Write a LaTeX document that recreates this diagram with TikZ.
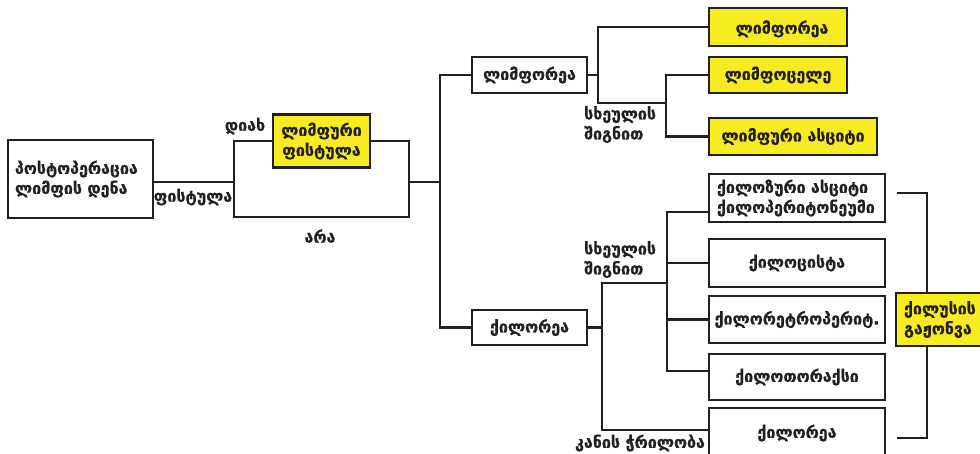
\documentclass[tikz,border=0pt]{standalone}
\usepackage{fontspec}
\setmainfont{DejaVu Sans}
\newfontfamily\geofont[Script=Georgian,FakeBold=0.6]{DejaVu Sans}
\definecolor{leakyellow}{RGB}{247,236,31}
\definecolor{inkgray}{RGB}{35,31,32}
\begin{document}
\begin{tikzpicture}[
    x=1pt, y=-1pt,
    every node/.style={font=\geofont\bfseries\fontsize{16}{20}\selectfont, text=inkgray},
    box/.style={draw=inkgray, line width=2.8pt, fill=white, inner sep=0pt, align=center},
    hibox/.style={box, fill=leakyellow},
    link/.style={draw=inkgray, line width=2.8pt},
    tag/.style={inner sep=0pt, align=left}
]
    % Page frame
    \useasboundingbox (0,0) rectangle (980,453);
    \clip (0,0) rectangle (980,453);

    % Source and fistula loop
    \node[box, minimum width=145pt, minimum height=78pt, align=left, text width=131pt] (flow) at (80.5,179) {პოსტოპერაცია\\ლიმფის დენა};
    \node[hibox, minimum width=97pt, minimum height=53pt] (fist) at (321.5,141) {ლიმფური\\ფისტულა};
    \coordinate (loopL) at (234,182);
    \coordinate (loopR) at (409,182);
    \coordinate (noway) at (320,217);
    \coordinate (split) at (440,182);

    % Two kinds of leak
    \node[box, minimum width=115pt, minimum height=36pt] (lymph) at (529.5,75) {ლიმფორეა};
    \node[box, minimum width=115pt, minimum height=35pt] (chyle) at (529.5,327.5) {ქილორეა};

    % Lymph side
    \node[hibox, minimum width=138pt, minimum height=38pt, text depth=0pt] (lyA) at (778,27) {\hspace{8pt}ლიმფორეა};
    \node[hibox, minimum width=138pt, minimum height=36pt] (lyB) at (778,75) {ლიმფოცელე};
    \node[hibox, minimum width=168pt, minimum height=37pt] (lyC) at (793,136.5) {ლიმფური ასციტი};
    \coordinate (ly1) at (598,75);
    \coordinate (ly2) at (666,103);

    % Chyle side
    \node[box, minimum width=176pt, minimum height=48pt, align=left, text width=160pt] (chA) at (797,198) {ქილოზური ასციტი\\ქილოპერიტონეუმი};
    \node[box, minimum width=176pt, minimum height=48pt] (chB) at (797,263) {ქილოცისტა};
    \node[box, minimum width=176pt, minimum height=47pt] (chC) at (797,319.5) {ქილორეტროპერიტ.};
    \node[box, minimum width=176pt, minimum height=46pt] (chD) at (797,377) {ქილოთორაქსი};
    \node[box, minimum width=176pt, minimum height=50pt] (chE) at (797,433) {ქილორეა};
    \coordinate (ch1) at (602,327.5);
    \coordinate (ch2) at (667,283);

    % Chyle leak bracket
    \node[hibox, minimum width=94pt, minimum height=53pt, align=left, text width=78pt] (leak) at (943,319.5) {ქილუსის\\გაჟონვა};
    \coordinate (brT) at (897,193);
    \coordinate (brB) at (897,438);

    % Connectors
    \draw[link] (flow.east |- loopL) -- (loopL);
    \draw[link] (loopL) |- (fist.west);
    \draw[link] (fist.east) -| (loopR);
    \draw[link] (loopL) |- (noway) -| (loopR);
    \draw[link] (loopR) -- (split);
    \draw[link] (split) |- (lymph.west);
    \draw[link] (split) |- (chyle.west);
    \draw[link] (lymph.east) -- (ly1);
    \draw[link] (ly1) |- (lyA.west);
    \draw[link] (ly1) |- (ly2);
    \draw[link] (ly2) |- (lyB.west);
    \draw[link] (ly2) |- (lyC.west);
    \draw[link] (chyle.east) -- (ch1);
    \draw[link] (ch1) |- (ch2);
    \draw[link] (ch1) |- ([yshift=3pt]chE.west);
    \draw[link] (ch2) |- ([yshift=-14pt]chA.west);
    \draw[link] (ch2) |- (chB.west);
    \draw[link] (ch2) |- (chC.west);
    \draw[link] (ch2) |- ([yshift=6pt]chD.west);
    \draw[link] (brT) -| ([xshift=-16pt]leak.north);
    \draw[link] (brB) -| ([xshift=-16pt]leak.south);

    % Branch labels
    \node[tag] (yes) at (245,126) {დიახ};
    \node[tag] (fistlabel) at (193,197) {ფისტულა};
    \node[tag] (no) at (320,236) {არა};
    \node[tag, anchor=north west] (inA) at (584,106) {სხეულის\\შიგნით};
    \node[tag, anchor=north west] (inB) at (584,241) {სხეულის\\შიგნით};
    \node[tag] (skin) at (640,443) {კანის ჭრილობა};
\end{tikzpicture}
\end{document}
